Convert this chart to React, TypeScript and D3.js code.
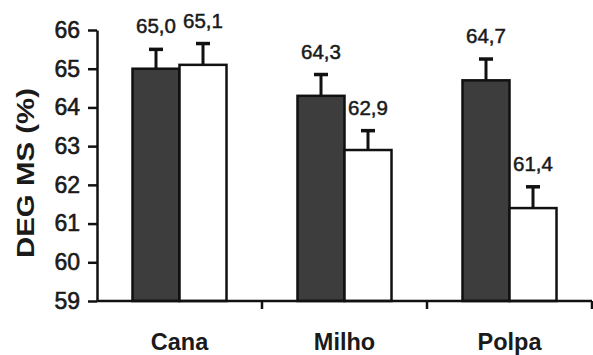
import React, { useEffect, useRef } from 'react';
import * as d3 from 'd3';

const categories = ['Cana', 'Milho', 'Polpa'];
const darkValues = [65.0, 64.3, 64.7];
const whiteValues = [65.1, 62.9, 61.4];
const darkErrors = [0.5, 0.55, 0.55];
const whiteErrors = [0.55, 0.5, 0.55];
const yTicks = [59, 60, 61, 62, 63, 64, 65, 66];

const W = 593;
const H = 355;
const FONT = 'Liberation Sans, Arial, sans-serif';

function App() {
    const svgRef = useRef<SVGSVGElement | null>(null);

    useEffect(() => {
        if (!svgRef.current) return;
        const svg = d3.select(svgRef.current);
        svg.selectAll('*').remove();

        const left = 97, right = 592, top = 30, bottom = 301;

        const y = d3.scaleLinear().domain([59, 66]).range([bottom, top]);
        const x = d3.scaleBand().domain(categories).range([left, right]).padding(0);
        const sub = d3.scaleBand().domain(['d', 'w']).range([0, x.bandwidth()])
            .paddingInner(0).paddingOuter(0.755);

        const rows = categories.map((c, i) => ([
            { c, key: 'd', v: darkValues[i], e: darkErrors[i] },
            { c, key: 'w', v: whiteValues[i], e: whiteErrors[i] },
        ])).flat();

        const g = svg.append('g');

        // error bars + value labels
        rows.forEach(r => {
            const cx = (x(r.c) as number) + (sub(r.key) as number) + sub.bandwidth() / 2;
            g.append('line')
                .attr('x1', cx).attr('x2', cx)
                .attr('y1', y(r.v)).attr('y2', y(r.v + r.e))
                .attr('stroke', '#111').attr('stroke-width', 3);
            g.append('line')
                .attr('x1', cx - 7).attr('x2', cx + 7)
                .attr('y1', y(r.v + r.e)).attr('y2', y(r.v + r.e))
                .attr('stroke', '#111').attr('stroke-width', 3.5);
            g.append('text')
                .attr('x', cx)
                .attr('y', y(r.v + r.e) - 16)
                .attr('text-anchor', 'middle')
                .attr('font-family', FONT)
                .attr('font-size', 20.5)
                .attr('fill', '#1a1a1a')
                .attr('stroke', '#1a1a1a')
                .attr('stroke-width', 0.5)
                .text(d3.format('.1f')(r.v).replace('.', ','));
        });

        rows.forEach(r => {
            g.append('rect')
                .attr('x', (x(r.c) as number) + (sub(r.key) as number))
                .attr('y', y(r.v))
                .attr('width', sub.bandwidth())
                .attr('height', bottom - y(r.v))
                .attr('fill', r.key === 'd' ? '#3d3d3d' : '#ffffff')
                .attr('stroke', '#111')
                .attr('stroke-width', 2.5);
        });

        // y axis
        const yAxis = svg.append('g')
            .attr('transform', `translate(${left},0)`)
            .call(d3.axisLeft(y).tickValues(yTicks).tickFormat(d3.format('d')).tickSize(9).tickPadding(8).tickSizeOuter(0));
        yAxis.select('.domain').attr('stroke', '#111').attr('stroke-width', 2.5);
        yAxis.selectAll('.tick line').attr('stroke', '#111').attr('stroke-width', 2.5);
        yAxis.selectAll('.tick text')
            .attr('font-family', FONT)
            .attr('font-size', 23)
            .attr('fill', '#1a1a1a')
            .attr('stroke', '#1a1a1a')
            .attr('stroke-width', 0.6);

        // x axis
        svg.append('line')
            .attr('x1', left).attr('x2', right)
            .attr('y1', bottom).attr('y2', bottom)
            .attr('stroke', '#111').attr('stroke-width', 2.5);
        categories.forEach(c => {
            const bx = (x(c) as number) + x.bandwidth();
            svg.append('line')
                .attr('x1', bx).attr('x2', bx)
                .attr('y1', bottom).attr('y2', bottom + 8)
                .attr('stroke', '#111').attr('stroke-width', 2.5);
            svg.append('text')
                .attr('x', (x(c) as number) + x.bandwidth() / 2)
                .attr('y', 350)
                .attr('text-anchor', 'middle')
                .attr('font-family', FONT)
                .attr('font-weight', 'bold')
                .attr('font-size', 23.5)
                .attr('fill', '#1a1a1a')
                .text(c);
        });

        // y title
        svg.append('text')
            .attr('transform', `translate(34,173) rotate(-90)`)
            .attr('text-anchor', 'middle')
            .attr('font-family', FONT)
            .attr('font-weight', 'bold')
            .attr('font-size', 24)
            .attr('textLength', 170)
            .attr('lengthAdjust', 'spacingAndGlyphs')
            .attr('fill', '#1a1a1a')
            .text('DEG MS (%)');
    }, []);

    return (
        <svg ref={svgRef} width={W} height={H}
            style={{ position: 'absolute', left: 0, top: 0, background: '#fff' }} />
    );
}

export default App;
